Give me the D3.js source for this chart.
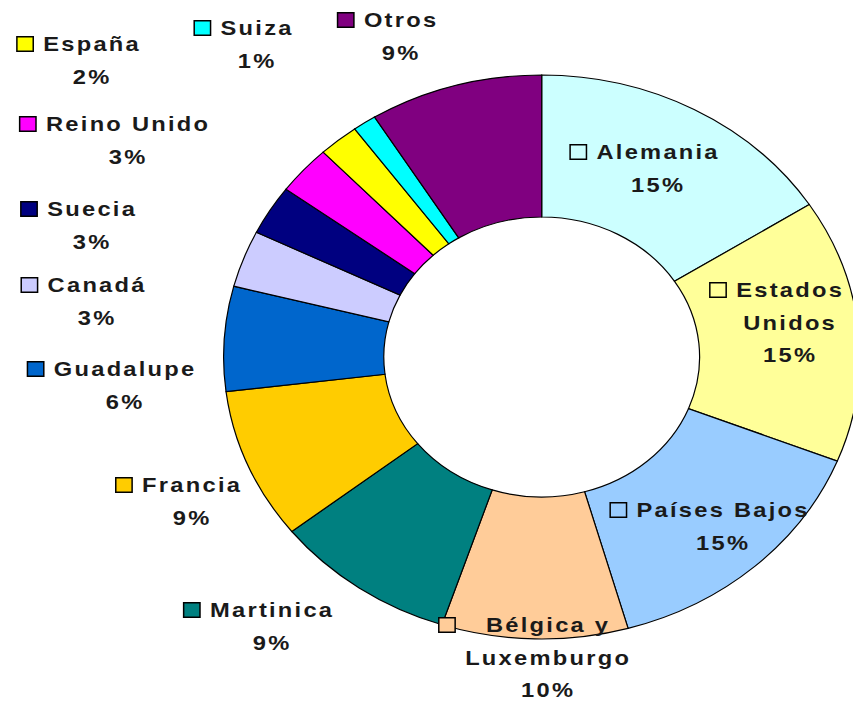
<!DOCTYPE html>
<html>
<head>
<meta charset="utf-8">
<script src="https://cdn.jsdelivr.net/npm/d3@7"></script>
<style>
  html, body { margin: 0; padding: 0; background: #fff; }
  svg { display: block; }
  .lbl { font-family: "Liberation Sans", Arial, sans-serif; font-weight: bold; font-size: 21px; letter-spacing: 2px; fill: #1a1a1a; }
</style>
</head>
<body>
<svg id="chart"></svg>
<script>
'use strict'

// share of exports by destination (clockwise from 12 o'clock)
const countries = ['Alemania', 'Estados Unidos', 'Países Bajos', 'Bélgica y Luxemburgo', 'Martinica',
	'Francia', 'Guadalupe', 'Canadá', 'Suecia', 'Reino Unido', 'España', 'Suiza', 'Otros'];
const shares = [15.9, 15.1, 14.6, 9.45, 9.3, 8.65, 6.0, 3.25, 2.85, 2.8, 2.05, 1.2, 8.8];
const pctLabels = ['15%', '15%', '15%', '10%', '9%', '9%', '6%', '3%', '3%', '3%', '2%', '1%', '9%'];
const nameLines = [['Alemania'], ['Estados', 'Unidos'], ['Países Bajos'], ['Bélgica y', 'Luxemburgo'], ['Martinica'],
	['Francia'], ['Guadalupe'], ['Canadá'], ['Suecia'], ['Reino Unido'], ['España'], ['Suiza'], ['Otros']];
const colors = ['#CCFFFF', '#FFFF99', '#99CCFF', '#FFCC99', '#008080', '#FFCC00', '#0066CC',
	'#CCCCFF', '#000080', '#FF00FF', '#FFFF00', '#00FFFF', '#800080'];

// label block anchors: centre x of the text, centre y of the first line
const labelAt = [[657, 152], [789, 290], [722, 510], [547, 625], [271, 610], [191, 485], [124, 369],
	[96, 285], [91, 209], [127, 124], [91, 44], [256, 28], [400, 20]];

var width = 853, height = 701;
var cx = 541.7, cy = 357;
var outerR = 282, innerR = 140;
var stretch = 1.128;   // the whole picture is wider than tall
var lineH = 32.5;
var keySize = 14.5;
var keyGap = 10;
var spacing = 2;

var svg = d3.select('#chart')
	.attr('width', width)
	.attr('height', height);

var pie = d3.pie()
	.sort(null)
	.value(function(d) { return d; });

var arc = d3.arc()
	.innerRadius(innerR)
	.outerRadius(outerR);

var ring = svg.append('g')
	.attr('transform', 'translate(' + cx + ',' + cy + ') scale(' + stretch + ',1)');

ring.selectAll('path')
	.data(pie(shares))
	.enter()
	.append('path')
	.attr('d', arc)
	.attr('fill', function(d, i) { return colors[i]; })
	.attr('stroke', '#000')
	.attr('stroke-width', 1.2)
	.attr('vector-effect', 'non-scaling-stroke');

var labels = svg.append('g')
	.selectAll('g')
	.data(countries)
	.enter()
	.append('g')
	.attr('class', 'label')
	.attr('transform', function(d, i) {
		return 'translate(' + labelAt[i][0] + ',' + labelAt[i][1] + ') scale(' + stretch + ',1)';
	});

labels.each(function(d, i) {
	var g = d3.select(this);
	var lines = nameLines[i].concat([pctLabels[i]]);
	var widest = 0;
	lines.forEach(function(line, j) {
		var t = g.append('text')
			.attr('class', 'lbl')
			.attr('text-anchor', 'middle')
			.attr('dominant-baseline', 'central')
			.attr('x', spacing / 2)
			.attr('y', j * lineH)
			.text(line);
		if (j < lines.length - 1) {
			widest = Math.max(widest, t.node().getComputedTextLength() - spacing);
		}
	});
	g.append('rect')
		.attr('x', -widest / 2 - keyGap / stretch - keySize)
		.attr('y', -keySize / 2)
		.attr('width', keySize)
		.attr('height', keySize)
		.attr('fill', colors[i])
		.attr('stroke', '#000')
		.attr('stroke-width', 1.5)
		.attr('vector-effect', 'non-scaling-stroke');
});
</script>
</body>
</html>
